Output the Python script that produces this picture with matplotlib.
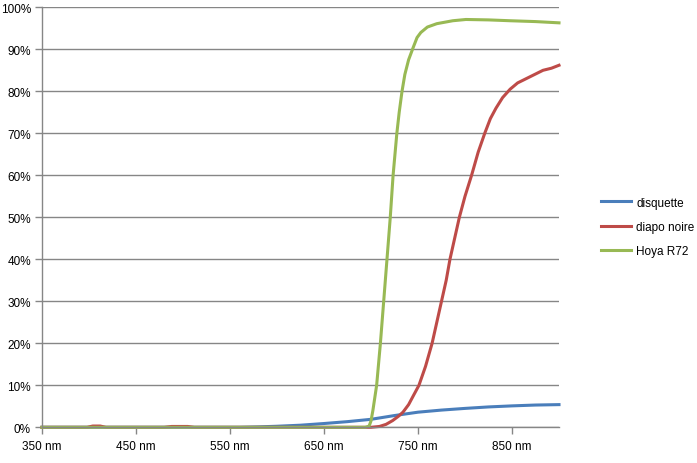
import matplotlib.pyplot as plt
from matplotlib.ticker import FuncFormatter

# transmission curves (wavelength in nm, value in %)
wl_disquette = [350, 560, 580, 600, 625, 650, 675, 700, 725, 750, 775, 800, 825, 850, 875, 900]
disquette = [0, 0, 0.1, 0.25, 0.5, 0.9, 1.35, 1.9, 2.8, 3.6, 4.1, 4.5, 4.85, 5.1, 5.3, 5.4]

wl_diapo = [350, 398, 404, 412, 418, 480, 488, 505, 512, 700, 709, 716, 723, 729, 734, 740, 745,
            751, 758, 765, 770, 775, 780, 784, 789, 794, 800, 807, 814, 821, 827, 833, 840,
            848, 856, 865, 874, 883, 892, 900]
diapo = [0, 0, 0.3, 0.3, 0, 0, 0.2, 0.2, 0, 0, 0.2, 0.7, 1.6, 2.6, 3.6, 5.4, 7.5,
         10, 14.5, 20, 25, 30, 35, 40, 45, 50, 55, 60, 65.5, 70, 73.5, 76, 78.5,
         80.5, 82, 83, 84, 85, 85.5, 86.2]

wl_hoya = [350, 694, 698, 700, 702, 704, 706, 710, 713.5, 717, 720.5, 723.5, 727.5, 730, 733,
           736, 740, 745, 749, 753, 760, 770, 787, 801, 825, 848, 875, 900]
hoya = [0, 0, 0.3, 1.5, 4, 7, 10, 20, 30, 40, 50, 60, 70, 75, 80,
        84, 87.5, 90.5, 92.8, 94, 95.3, 96.1, 96.8, 97.1, 97.0, 96.8, 96.6, 96.3]

x_ticks = [350, 450, 550, 650, 750, 850]
y_ticks = list(range(0, 101, 10))

grey = '#868686'
plt.rcParams['font.family'] = ['Liberation Sans', 'DejaVu Sans']

fig = plt.figure(figsize=(6.97, 4.64), dpi=100)
ax = fig.add_axes([42 / 697, (464 - 428.3) / 464, 517 / 697, 420 / 464])

ax.plot(wl_disquette, disquette, color='#4A7EBB', lw=2.2, label='disquette', clip_on=False)
ax.plot(wl_diapo, diapo, color='#BE4B48', lw=2.2, label='diapo noire', clip_on=False)
ax.plot(wl_hoya, hoya, color='#98B954', lw=2.2, label='Hoya R72', clip_on=False)

ax.set_xlim(350, 900)
ax.set_ylim(0, 100)
ax.set_xticks(x_ticks)
ax.set_xticklabels([f'{v} nm' for v in x_ticks])
ax.set_yticks(y_ticks)
ax.yaxis.set_major_formatter(FuncFormatter(lambda v, p: f'{v:.0f}%'))
ax.grid(axis='y', color=grey, lw=1)
ax.set_axisbelow(True)

for side in ['top', 'right']:
    ax.spines[side].set_visible(False)
for side in ['left', 'bottom']:
    ax.spines[side].set_color(grey)
    ax.spines[side].set_linewidth(1)
ax.tick_params(axis='both', color=grey, length=5, width=1, labelsize=8.5, labelcolor='black')
ax.tick_params(axis='x', pad=4)
ax.tick_params(axis='y', pad=3)

fig.legend(loc='center left', bbox_to_anchor=(590 / 697, 1 - 228 / 464), frameon=False,
           fontsize=8.5, handlelength=2.6, handletextpad=0.4, labelspacing=1.05)

plt.savefig('out.png', dpi=100)
